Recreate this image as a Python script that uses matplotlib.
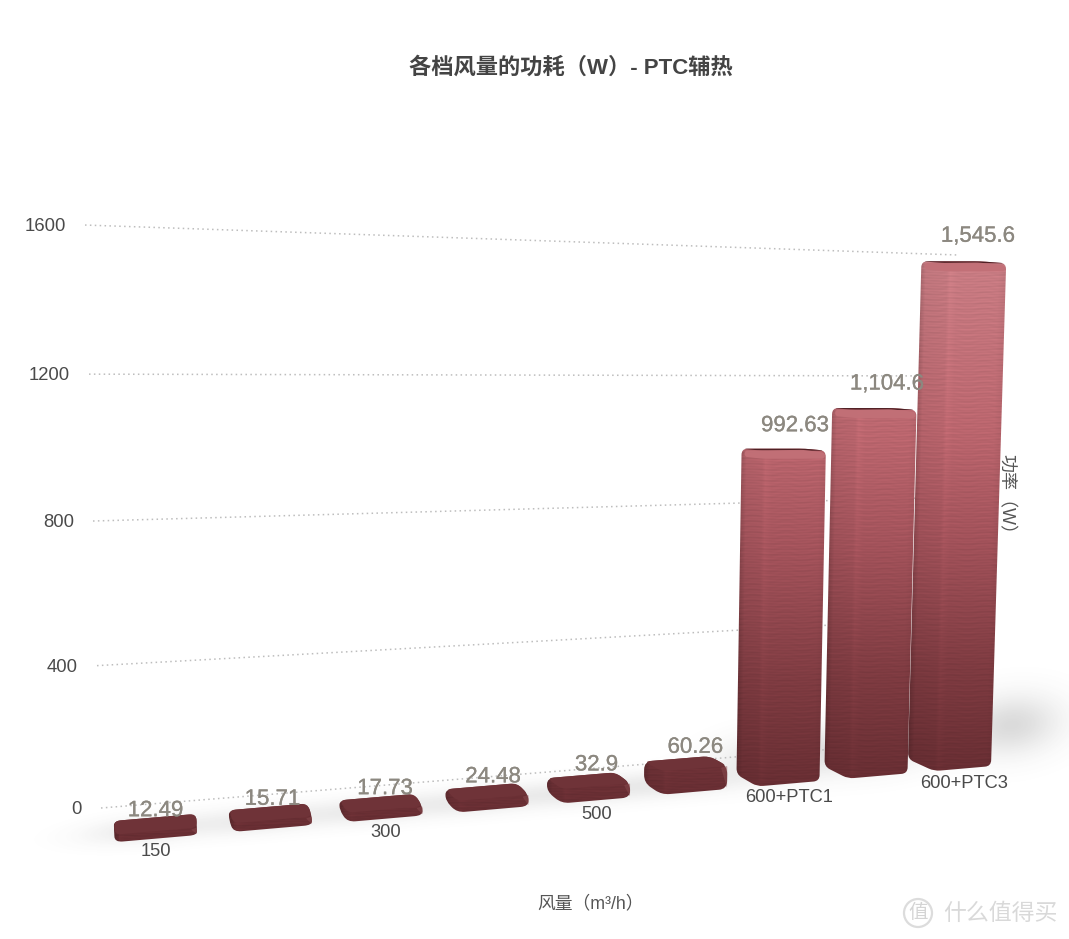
import numpy as np
import matplotlib
matplotlib.use('Agg')
import matplotlib.pyplot as plt
import matplotlib.patheffects as pe
from matplotlib.colors import LinearSegmentedColormap
from matplotlib.patches import Circle, PathPatch
from matplotlib.path import Path

plt.rcParams['font.family'] = ['Liberation Sans', 'Noto Sans CJK SC']

# chart data
categories = ['150', '', '300', '', '500', '', '600+PTC1', '', '600+PTC3']
power = [12.49, 15.71, 17.73, 24.48, 32.9, 60.26, 992.63, 1104.6, 1545.6]
power_labels = ['12.49', '15.71', '17.73', '24.48', '32.9', '60.26', '992.63', '1,104.6', '1,545.6']
y_ticks = [0, 400, 800, 1200, 1600]

W, H = 1069, 939
BAR_W = 83

fig = plt.figure(figsize=(W / 100, H / 100), dpi=100)
ax = fig.add_axes([0, 0, 1, 1])

bar_cmap = LinearSegmentedColormap.from_list('bar', [
    (0.0, '#682e33'), (0.2, '#7e3b41'), (0.45, '#a2525a'), (0.67, '#bb666e'), (1.0, '#c97d84')])


# perspective of the 3d scene, in output pixels
def bar_left(i):
    return 114 + 117.25 * i - 2.25 * i ** 2


def floor_y(x):
    return 842 - 0.0868 * (x - 117)


def lean(x, v):
    return 2e-5 * (x - 500) * v


def bar_height(i, v):
    return 3 + (0.361 - 0.0043 * i) * v


def grid_left(v):
    return 101 - v * 0.01, 808 - 0.3531 * v - 7.03e-6 * v ** 2


def grid_right(v):
    return 958, 739 - 0.3025 * v


def rounded(points, r):
    verts, codes = [], []
    n = len(points)
    for k in range(n):
        p = np.array(points[k], float)
        a = np.array(points[k - 1], float)
        b = np.array(points[(k + 1) % n], float)
        ra = min(r, np.linalg.norm(a - p) * 0.45)
        rb = min(r, np.linalg.norm(b - p) * 0.45)
        p0 = p + (a - p) / max(np.linalg.norm(a - p), 1e-6) * ra
        p1 = p + (b - p) / max(np.linalg.norm(b - p), 1e-6) * rb
        verts.append(p0)
        codes.append(Path.MOVETO if k == 0 else Path.LINETO)
        verts += [p, p1]
        codes += [Path.CURVE3, Path.CURVE3]
    verts.append(verts[0])
    codes.append(Path.CLOSEPOLY)
    return Path(verts, codes)


# soft shadow on the floor
yy, xx = np.mgrid[0:H, 0:W]
shadow = np.zeros((H, W))
for i, v in enumerate(power):
    x0 = bar_left(i)
    big = v / max(power)
    cx = x0 + BAR_W * 0.4 + 70 * big ** 4
    cy = floor_y(cx) - 10 - 30 * big
    sx = 62 - 15 * big ** 4
    sy = 13 + 16 * big
    amp = 0.11 + 0.09 * big
    shadow += amp * np.exp(-((xx - cx) / sx) ** 2 - ((yy - cy + 0.0868 * (xx - cx)) / sy) ** 2)
shadow_rgba = np.zeros((H, W, 4))
shadow_rgba[..., :3] = 0.3
shadow_rgba[..., 3] = np.clip(shadow, 0, 0.4)
ax.imshow(shadow_rgba, extent=(0, W, H, 0), aspect='auto', zorder=1, interpolation='bilinear')

# gridlines and value axis labels
for v in y_ticks:
    xl, yl = grid_left(v)
    xr, yr = grid_right(v)
    ax.plot([xl, xr], [yl, yr], color='#bdbdbd', lw=1.1, linestyle=(0, (1, 2.2)), zorder=1.5)
    ax.text(xl - 19, yl + 1.5, str(v), ha='right', va='center', fontsize=13.3, color='#4a4a4a', zorder=6)

# bars
for i, v in enumerate(power):
    x0 = bar_left(i)
    dx = 0.032 * (x0 - 90)
    cx = x0 + dx
    rx = x0 + BAR_W
    h = bar_height(i, v)
    top_dy = max(2, 14 - 0.6 * i - v * 0.02)
    flat = 0.0868 * min(v / 1000, 1) * (rx - cx)

    # bottom and top outline of the block
    l_bot = (cx - dx, floor_y(cx) - 12)
    c_bot = (cx, floor_y(cx))
    r_bot = (rx, floor_y(rx))
    fl = (cx + lean(cx, v), floor_y(cx) - h)
    fr = (rx + lean(rx, v), floor_y(rx) - h + flat)
    tl = (fl[0] - dx, fl[1] - top_dy)
    br = (fr[0] - dx, fr[1] - top_dy)

    z = 2 + i * 0.1
    outline = rounded([l_bot, c_bot, r_bot, fr, br, tl], 8 if v < 100 else 6)
    clip = PathPatch(outline, facecolor='none', edgecolor='none', zorder=z)
    ax.add_patch(clip)

    # vertical gradient with fine horizontal streaks
    x_a, x_b = int(min(l_bot[0], tl[0])) - 2, int(max(r_bot[0], fr[0])) + 3
    y_a, y_b = int(min(tl[1], br[1])) - 3, int(c_bot[1]) + 3
    ys, xs = np.mgrid[y_a:y_b, x_a:x_b]
    t = np.clip((floor_y(x0 + 40) - ys) / 510, 0, 1)
    rgb = bar_cmap(t)[..., :3]
    ratio = np.clip((floor_y(x0 + 40) - ys) / max(h, 1), 0, 1)
    left_edge = x0 + lean(x0, v) * ratio
    u = (xs - left_edge) / BAR_W
    f = dx / BAR_W
    edge = 0.72 if v > 100 else 0.85
    shade = np.interp(u, [-0.05, 0.02, 0.06, f, f + 0.04, f + 0.12, 0.93, 1.05],
                      [edge, 0.88, 0.96, 0.98, 1.03, 1.0, 1.0, 0.94])
    streak = (np.sin(ys * 2.3 + 1.5 * np.sin(xs * 0.07)) * 0.45
              + np.sin(ys * 1.1 + xs * 0.03) * 0.3
              + np.sin(ys * 5.1 + 2 * np.sin(xs * 0.19)) * 0.25)
    rgb = np.clip(rgb * (shade * (1 + 0.05 * streak))[..., None], 0, 1)
    im = ax.imshow(rgb, extent=(x_a, x_b, y_b, y_a), aspect='auto', zorder=z, interpolation='bilinear')
    im.set_clip_path(clip)

    # top face
    top_col = '#6f3338' if v < 100 else '#4f2024'
    top = PathPatch(rounded([tl, br, fr, fl], 6), facecolor=top_col, edgecolor='none', zorder=z + 0.01)
    ax.add_patch(top)
    if v < 100:
        wedge = PathPatch(rounded([(rx - 6, floor_y(rx) - h + 2), fr, (rx, floor_y(rx) - 1)], 1),
                          facecolor='#8a4c50', edgecolor='none', alpha=0.5, zorder=z + 0.02)
        ax.add_patch(wedge)
    else:
        # tall bars: the edge-on top, then a pale lip below it
        lip = PathPatch(rounded([(tl[0] + 3, tl[1] + 1.8), (br[0] - 2, br[1] + 1.2),
                                 (fr[0] - 1, fr[1] + 2), (fr[0] - 1, fr[1] + 8), (fl[0], fl[1] + 8),
                                 (tl[0] + 3, tl[1] + 8)], 3),
                        facecolor='#c27077', edgecolor='none', alpha=0.95, zorder=z + 0.02)
        ax.add_patch(lip)

    # labels
    top_cx = x0 + BAR_W / 2 + lean(x0 + 40, v)
    shift = 0.018 * (top_cx - 150)
    label_y = min(tl[1], br[1]) - (3 + i + 0.014 * min(v, 1000))
    ax.text(top_cx + shift, label_y, power_labels[i], ha='center', va='center', fontsize=16,
            color='#8c8880', zorder=6,
            path_effects=[pe.withStroke(linewidth=0.2, foreground='#8c8880')])
    if categories[i]:
        base_cx = x0 + BAR_W / 2
        ax.text(base_cx + 0.018 * (base_cx - 150), floor_y(base_cx) + 13.3, categories[i],
                ha='center', va='center', fontsize=13.2, color='#4a4a4a', zorder=6)

# titles
ax.text(571, 68, '各档风量的功耗（W）- PTC辅热', ha='center', va='center', fontsize=16,
        fontweight='bold', color='#444444', zorder=6)
ax.text(591, 904, '风量（m³/h）', ha='center', va='center', fontsize=12.8, color='#555555', zorder=6)
ax.text(1006, 498, '功率（W）', ha='center', va='center', rotation=-90, fontsize=13,
        color='#555555', zorder=6)

# watermark
ax.add_patch(Circle((918, 913), 14, facecolor='none', edgecolor='#dcdcdc', lw=1.6, zorder=6))
ax.text(918, 913, '值', ha='center', va='center', fontsize=14, color='#d4d4d4', zorder=6)
ax.text(1000, 913, '什么值得买', ha='center', va='center', fontsize=16.5, color='#d9d9d9', zorder=6)

ax.set_xlim(0, W)
ax.set_ylim(H, 0)
ax.axis('off')
fig.savefig('out.png', dpi=100)
